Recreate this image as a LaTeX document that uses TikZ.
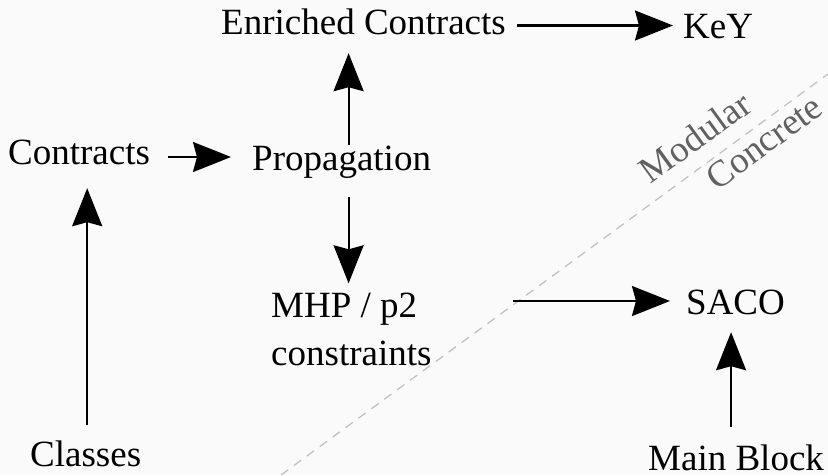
\documentclass[tikz,border=0pt]{standalone}
\usepackage{fontspec}
\setmainfont{Liberation Serif}
\usetikzlibrary{arrows.meta}
\definecolor{paper}{RGB}{250,250,250}

\begin{document}
\begin{tikzpicture}[x=1pt,y=-1pt,
  lbl/.style={inner sep=0pt,anchor=base west,text height=25pt,text depth=8pt,font=\fontsize{37pt}{48pt}\selectfont},
  flow/.style={line width=2.2pt,-{Stealth[length=38pt,width=30pt,inset=4pt]}},
  side/.style={inner sep=0pt,rotate=36,text=black!62,font=\fontsize{37pt}{37pt}\selectfont}]
  \fill[paper] (0,0) rectangle (828,475);
  \useasboundingbox (0,0) rectangle (828,475);
  % modular / concrete split
  \draw[black!25,line width=1.2pt,dash pattern=on 9pt off 7pt] (281,475) -- (828,74);
  \node[side] (modular) at (695,137) {Modular};
  \node[side] (concrete) at (764,142) {Concrete};
  % steps
  \node[lbl] (enriched) at (221,34) {Enriched Contracts};
  \node[lbl] (key) at (683,38) {KeY};
  \node[lbl] (contracts) at (8,164) {Contracts};
  \node[lbl] (propagation) at (252,170) {Propagation};
  \node[inner sep=0pt,anchor=base west,align=left,font=\fontsize{37pt}{48pt}\selectfont] (mhp) at (271,365) {MHP / p2\\constraints};
  \node[lbl] (saco) at (686,314) {SACO};
  \node[lbl] (classes) at (30,466) {Classes};
  \node[lbl,text depth=0pt] (main) at (648,470) {Main Block};
  % arrows
  \draw[flow,shorten <=18pt,shorten >=21pt] ([yshift=4.5pt]propagation.west -| contracts.east) -- ([yshift=4.5pt]propagation.west);
  \draw[flow,shorten >=11pt] ([xshift=7pt]propagation.north) -- ([xshift=7pt]propagation.north |- enriched.south);
  \draw[flow,shorten <=19pt,shorten >=9pt] ([xshift=7pt]propagation.south) -- ([xshift=7pt]propagation.south |- mhp.north);
  \draw[flow,shorten <=11pt,shorten >=10pt] (enriched.east) -- (enriched.east -| key.west);
  \draw[flow,shorten <=81pt,shorten >=16pt] ([yshift=4.5pt]saco.west -| mhp.east) -- ([yshift=4.5pt]saco.west);
  \draw[flow,shorten <=18pt,shorten >=10pt] ([xshift=-5pt]main.north) -- ([xshift=-5pt]main.north |- saco.south);
  \draw[flow,shorten <=16pt,shorten >=16pt] ([xshift=1.5pt]classes.north) -- ([xshift=1.5pt]classes.north |- contracts.south);
\end{tikzpicture}
\end{document}
